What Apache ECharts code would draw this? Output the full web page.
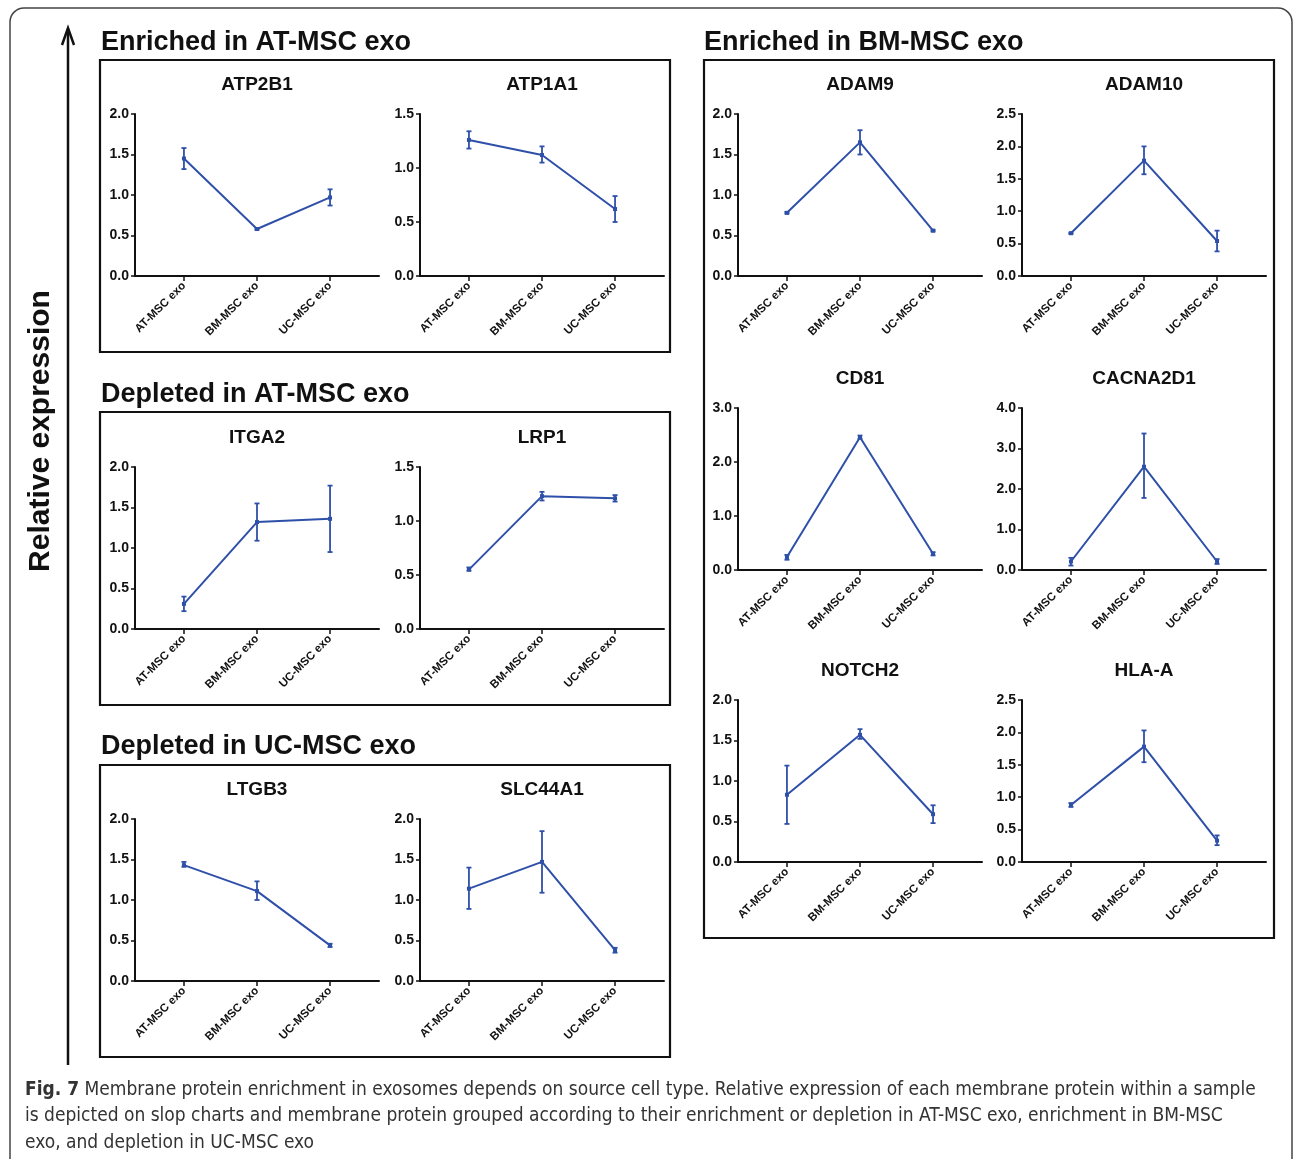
<!DOCTYPE html>
<html><head><meta charset="utf-8">
<script src="https://cdn.jsdelivr.net/npm/echarts@6/dist/echarts.min.js"></script>
<style>html,body{margin:0;padding:0;background:#fff}#c{width:1293px;height:1159px}</style>
</head><body><div id="c"></div>
<script>
// ---------- DATA ----------
const categories = ['AT-MSC exo', 'BM-MSC exo', 'UC-MSC exo'];
// each row: [mean, lower error, upper error] for AT, BM, UC
const ATP2B1   = [[1.45, 1.32, 1.58], [0.58, 0.57, 0.59], [0.97, 0.87, 1.07]];
const ATP1A1   = [[1.26, 1.18, 1.34], [1.12, 1.05, 1.20], [0.62, 0.50, 0.74]];
const ITGA2    = [[0.31, 0.22, 0.40], [1.32, 1.09, 1.55], [1.36, 0.95, 1.77]];
const LRP1     = [[0.55, 0.54, 0.57], [1.23, 1.19, 1.27], [1.21, 1.18, 1.24]];
const LTGB3    = [[1.43, 1.41, 1.47], [1.11, 1.00, 1.23], [0.44, 0.42, 0.46]];
const SLC44A1  = [[1.14, 0.89, 1.40], [1.47, 1.09, 1.85], [0.38, 0.35, 0.41]];
const ADAM9    = [[0.78, 0.77, 0.79], [1.65, 1.50, 1.80], [0.56, 0.55, 0.57]];
const ADAM10   = [[0.66, 0.65, 0.67], [1.78, 1.57, 2.00], [0.54, 0.38, 0.70]];
const CD81     = [[0.24, 0.19, 0.28], [2.46, 2.43, 2.49], [0.30, 0.27, 0.33]];
const CACNA2D1 = [[0.21, 0.11, 0.30], [2.55, 1.78, 3.37], [0.21, 0.15, 0.27]];
const NOTCH2   = [[0.83, 0.47, 1.19], [1.57, 1.52, 1.64], [0.59, 0.48, 0.70]];
const HLA_A    = [[0.88, 0.85, 0.91], [1.78, 1.54, 2.03], [0.33, 0.26, 0.41]];

const proteinNames = ['ATP2B1', 'ATP1A1', 'ITGA2', 'LRP1', 'LTGB3', 'SLC44A1',
                      'ADAM9', 'ADAM10', 'CD81', 'CACNA2D1', 'NOTCH2', 'HLA-A'];
const proteinData = [ATP2B1, ATP1A1, ITGA2, LRP1, LTGB3, SLC44A1,
                     ADAM9, ADAM10, CD81, CACNA2D1, NOTCH2, HLA_A];
const yMax  = [2.0, 1.5, 2.0, 1.5, 2.0, 2.0, 2.0, 2.5, 3.0, 4.0, 2.0, 2.5];
const yStep = [0.5, 0.5, 0.5, 0.5, 0.5, 0.5, 0.5, 0.5, 1.0, 1.0, 0.5, 0.5];

const groupTitles = ['Enriched in AT-MSC exo', 'Depleted in AT-MSC exo',
                     'Depleted in UC-MSC exo', 'Enriched in BM-MSC exo'];
const yAxisTitle = 'Relative expression';
const captionBold = 'Fig. 7';
const captionLines = [
  ' Membrane protein enrichment in exosomes depends on source cell type. Relative expression of each membrane protein within a sample',
  'is depicted on slop charts and membrane protein grouped according to their enrichment or depletion in AT-MSC exo, enrichment in BM-MSC',
  'exo, and depletion in UC-MSC exo'
];

// ---------- LAYOUT ----------
const panelPos = [[135,114],[420,114],[135,467],[420,467],[135,819],[420,819],
                  [738,114],[1022,114],[738,408],[1022,408],[738,700],[1022,700]];
const PW = 244, PH = 162;
const XMIN = -0.67, XMAX = 2.67;
const BLUE = '#2f50a8';
const FONT = '"Liberation Sans", Arial, sans-serif';
const CAPFONT = '"Liberation Sans Narrow", "DejaVu Sans Condensed", sans-serif';
const AXC = '#111';

const grids = [], xAxes = [], yAxes = [], series = [], graphics = [];

panelPos.forEach((p, i) => {
  grids.push({left: p[0], top: p[1], width: PW, height: PH, containLabel: false, outerBoundsMode: 'none'});
  xAxes.push({
    type: 'value', gridIndex: i, min: XMIN, max: XMAX,
    splitLine: {show: false},
    axisLine: {show: true, onZero: false, lineStyle: {color: AXC, width: 2}},
    axisTick: {show: true, customValues: [0, 1, 2], length: 5, lineStyle: {color: AXC, width: 1.5}},
    axisLabel: {customValues: [0, 1, 2], formatter: v => categories[Math.round(v)],
      rotate: 45, fontWeight: 'bold', fontSize: 11.5, color: AXC, margin: 8, fontFamily: FONT}
  });
  yAxes.push({
    type: 'value', gridIndex: i, min: 0, max: yMax[i], interval: yStep[i],
    splitLine: {show: false},
    axisLine: {show: true, onZero: false, lineStyle: {color: AXC, width: 2}},
    axisTick: {show: true, length: 4, lineStyle: {color: AXC, width: 1.5}},
    axisLabel: {formatter: v => v.toFixed(1), fontWeight: 'bold', fontSize: 14, color: AXC, margin: 6, fontFamily: FONT}
  });
  const d = proteinData[i];
  series.push({
    type: 'line', xAxisIndex: i, yAxisIndex: i,
    data: d.map((r, j) => [j, r[0]]),
    symbol: 'rect', symbolSize: 4, showSymbol: true,
    lineStyle: {color: BLUE, width: 2}, itemStyle: {color: BLUE},
    silent: true, z: 3
  });
  series.push({
    type: 'custom', xAxisIndex: i, yAxisIndex: i,
    data: d.map((r, j) => [j, r[1], r[2]]),
    encode: {x: 0, y: [1, 2]},
    renderItem: (params, api) => {
      const x = api.value(0);
      const lo = api.coord([x, api.value(1)]);
      const hi = api.coord([x, api.value(2)]);
      const st = {stroke: BLUE, lineWidth: 1.8, fill: null};
      return {type: 'group', children: [
        {type: 'line', shape: {x1: lo[0], y1: lo[1], x2: hi[0], y2: hi[1]}, style: st},
        {type: 'line', shape: {x1: lo[0]-2.5, y1: lo[1], x2: lo[0]+2.5, y2: lo[1]}, style: st},
        {type: 'line', shape: {x1: hi[0]-2.5, y1: hi[1], x2: hi[0]+2.5, y2: hi[1]}, style: st}
      ]};
    },
    silent: true, z: 4
  });
  // panel title
  graphics.push({type: 'text', x: p[0] + 122, y: p[1] - 29,
    style: {text: proteinNames[i], font: 'bold 19px ' + FONT, fill: '#111',
      textAlign: 'center', textVerticalAlign: 'middle'}});
});

// outer frame
graphics.push({type: 'rect', shape: {x: 10, y: 8, width: 1282, height: 1220, r: 14},
  style: {fill: null, stroke: '#444', lineWidth: 1.5}, z: -1});
// group boxes
const boxes = [[100,60,570,292],[100,412,570,293],[100,765,570,292],[704,60,570,878]];
boxes.forEach(b => graphics.push({type: 'rect', shape: {x: b[0], y: b[1], width: b[2], height: b[3]},
  style: {fill: null, stroke: '#111', lineWidth: 2.2}}));
// group titles
const groupTitlePos = [[101,43],[101,395],[101,747],[704,43]];
groupTitles.forEach((t, k) => graphics.push({type: 'text', x: groupTitlePos[k][0], y: groupTitlePos[k][1],
  style: {text: t, font: 'bold 27px ' + FONT, fill: '#111', textAlign: 'left', textVerticalAlign: 'middle'}}));
// arrow
graphics.push({type: 'line', shape: {x1: 68, y1: 1065, x2: 68, y2: 29}, style: {stroke: '#111', lineWidth: 2.5}});
graphics.push({type: 'polyline', shape: {points: [[62, 45], [68, 28], [74, 45]]},
  style: {stroke: '#111', lineWidth: 2.5, fill: null}});
// y title
graphics.push({type: 'text', x: 41, y: 431, rotation: Math.PI / 2,
  style: {text: yAxisTitle, font: 'bold 30px ' + FONT, fill: '#111', textAlign: 'center', textVerticalAlign: 'middle'}});
// caption
const capY = [1090, 1116, 1143];
captionLines.forEach((t, k) => graphics.push({type: 'text', x: 25, y: capY[k],
  style: {text: k === 0 ? '{b|' + captionBold + '}' + t : t,
    font: '19px ' + CAPFONT, fill: '#333',
    textAlign: 'left', textVerticalAlign: 'middle',
    rich: {b: {font: 'bold 19px ' + CAPFONT, fill: '#333'}}}}));

const chart = echarts.init(document.getElementById('c'), null, {renderer: 'canvas'});
chart.setOption({
  animation: false,
  backgroundColor: '#fff',
  grid: grids, xAxis: xAxes, yAxis: yAxes, series: series,
  graphic: {elements: graphics}
});
</script></body></html>
